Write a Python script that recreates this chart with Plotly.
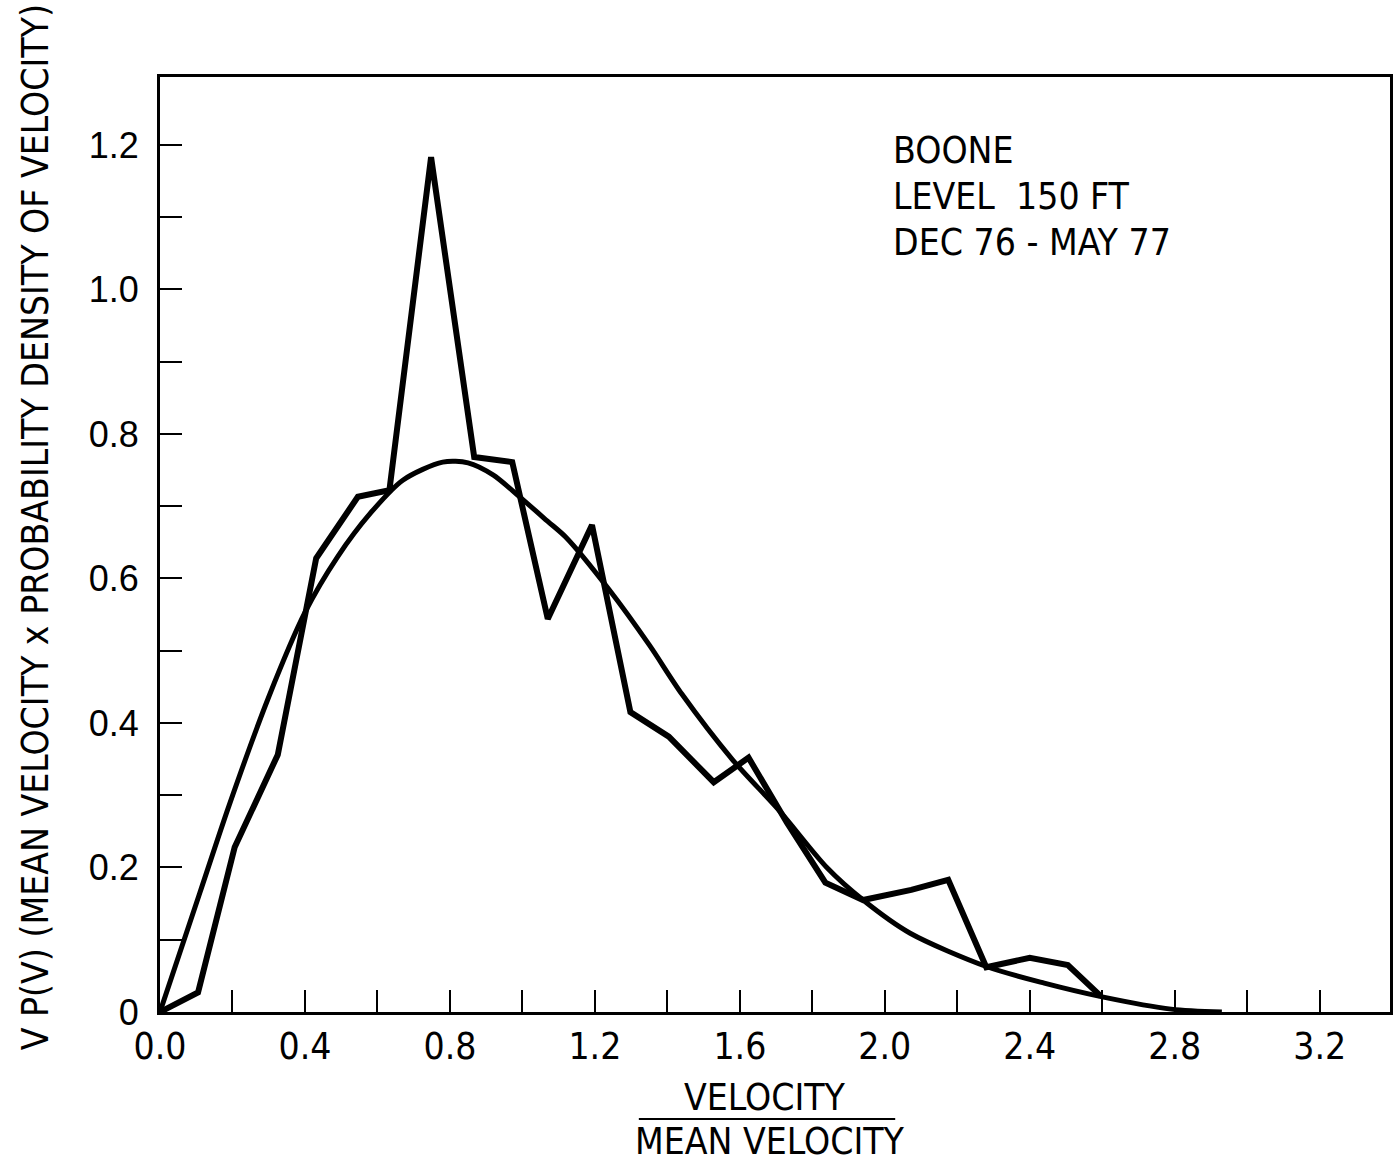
import plotly.graph_objects as go

# ---- data ----
jag_x = [0.0, 0.105, 0.206, 0.325, 0.431, 0.546, 0.633, 0.748, 0.867, 0.972,
         1.070, 1.192, 1.298, 1.404, 1.528, 1.624, 1.730, 1.836, 1.940, 2.073,
         2.175, 2.280, 2.400, 2.505, 2.596]
jag_y = [0.0, 0.027, 0.228, 0.356, 0.628, 0.713, 0.722, 1.183, 0.768, 0.761,
         0.544, 0.674, 0.415, 0.381, 0.318, 0.352, 0.262, 0.179, 0.155, 0.169,
         0.183, 0.062, 0.075, 0.065, 0.022]

fit_x = [0.0, 0.11, 0.19, 0.30, 0.40, 0.49, 0.58, 0.67, 0.78, 0.85, 0.92, 0.99,
         1.07, 1.12, 1.24, 1.35, 1.44, 1.58, 1.71, 1.84, 1.94, 2.07, 2.28, 2.44,
         2.60, 2.79, 2.93]
fit_y = [0.0, 0.165, 0.285, 0.436, 0.553, 0.630, 0.690, 0.736, 0.761, 0.760, 0.743, 0.714,
         0.679, 0.657, 0.584, 0.508, 0.440, 0.349, 0.278, 0.200, 0.155, 0.109, 0.063, 0.040,
         0.021, 0.004, 0.0]

x_tick_vals = [0.0, 0.2, 0.4, 0.6, 0.8, 1.0, 1.2, 1.4, 1.6, 1.8, 2.0, 2.2, 2.4, 2.6, 2.8, 3.0, 3.2]
x_tick_text = ["0.0", "", "0.4", "", "0.8", "", "1.2", "", "1.6", "", "2.0", "", "2.4", "", "2.8", "", "3.2"]
y_tick_vals = [0.0, 0.1, 0.2, 0.3, 0.4, 0.5, 0.6, 0.7, 0.8, 0.9, 1.0, 1.1, 1.2]
y_tick_text = ["0", "", "0.2", "", "0.4", "", "0.6", "", "0.8", "", "1.0", "", "1.2"]

site_lines = ["BOONE", "LEVEL  150 FT", "DEC 76 - MAY 77"]
y_title = "V P(V) (MEAN VELOCITY x PROBABILITY DENSITY OF VELOCITY)"
x_title_num = "VELOCITY"
x_title_den = "MEAN VELOCITY"

# ---- layout geometry ----
W, H = 1397, 1164
L, R, T, B = 160, 4, 77, 152
PW, PH = W - L - R, H - T - B

NARROW = "Liberation Sans Narrow, DejaVu Sans Condensed, Arial Narrow, sans-serif"
PLAIN = "Liberation Sans, Arial, sans-serif"


def px_x(p):
    return (p - L) / PW


def px_y(p):
    return (H - B - p) / PH


fig = go.Figure()
fig.add_trace(go.Scatter(x=fit_x, y=fit_y, mode="lines",
                         line=dict(color="black", width=5, shape="spline", smoothing=0.8),
                         showlegend=False, hoverinfo="skip"))
fig.add_trace(go.Scatter(x=jag_x, y=jag_y, mode="lines",
                         line=dict(color="black", width=6),
                         showlegend=False, hoverinfo="skip"))

axis_common = dict(showgrid=False, zeroline=False, showline=True, linewidth=3,
                   linecolor="black", mirror=True, ticks="inside", ticklen=22,
                   tickwidth=2, tickcolor="black")

fig.update_xaxes(range=[0, 3.394], tickmode="array", tickvals=x_tick_vals,
                 ticktext=x_tick_text, tickfont=dict(family=NARROW, size=37, color="black"),
                 ticklabelstandoff=0, **axis_common)
fig.update_yaxes(range=[0, 1.294], tickmode="array", tickvals=y_tick_vals,
                 ticktext=y_tick_text, tickfont=dict(family=PLAIN, size=36, color="black"),
                 ticklabelstandoff=11, **axis_common)

annotations = []
for i, s in enumerate(site_lines):
    annotations.append(dict(text=s, xref="paper", yref="paper", x=px_x(893),
                            y=px_y(151 + 46 * i), xanchor="left", yanchor="middle",
                            showarrow=False, font=dict(family=NARROW, size=37, color="black")))
annotations.append(dict(text=y_title, xref="paper", yref="paper", x=px_x(35), y=px_y(527),
                        xanchor="center", yanchor="middle", textangle=-90, showarrow=False,
                        font=dict(family=NARROW, size=37, color="black")))
annotations.append(dict(text=x_title_num, xref="paper", yref="paper", x=px_x(766), y=px_y(1097),
                        xanchor="center", yanchor="middle", showarrow=False,
                        font=dict(family=NARROW, size=37, color="black")))
annotations.append(dict(text=x_title_den, xref="paper", yref="paper", x=px_x(771), y=px_y(1141),
                        xanchor="center", yanchor="middle", showarrow=False,
                        font=dict(family=NARROW, size=37, color="black")))

fig.update_layout(
    width=W, height=H,
    margin=dict(l=L, r=R, t=T, b=B, pad=0),
    paper_bgcolor="white", plot_bgcolor="white",
    annotations=annotations,
    shapes=[dict(type="line", xref="paper", yref="paper", x0=px_x(640), x1=px_x(897),
                 y0=px_y(1119), y1=px_y(1119), line=dict(color="black", width=2))],
)

fig.write_html("out.html")
